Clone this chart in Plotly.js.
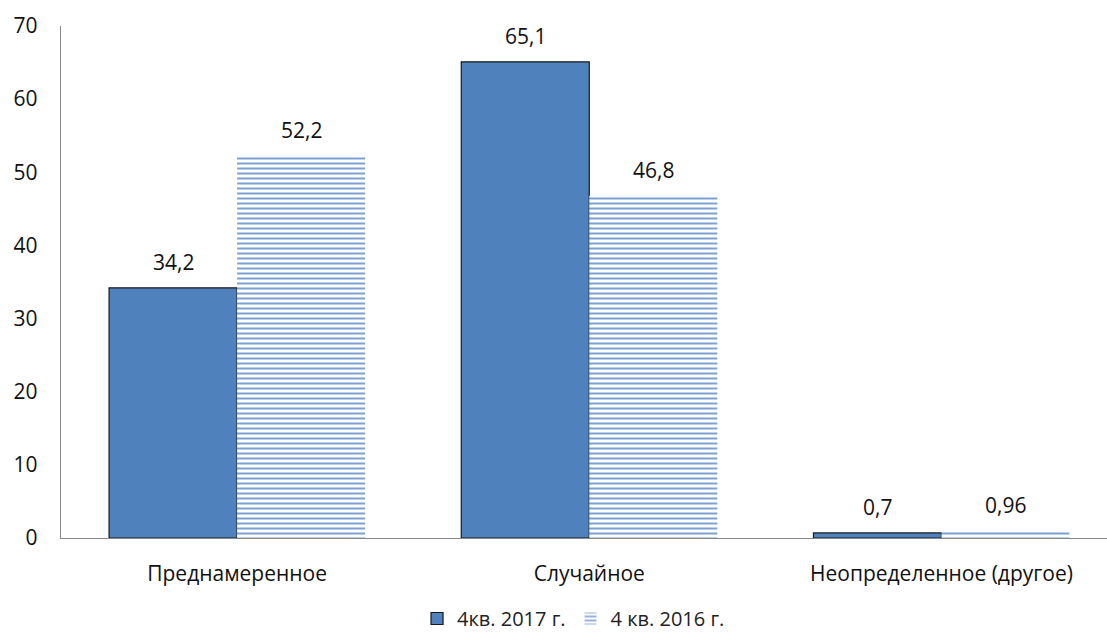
<!DOCTYPE html>
<html>
<head>
<meta charset="utf-8">
<script src="https://cdn.plot.ly/plotly-3.0.1.min.js"></script>
<style>html,body{margin:0;padding:0;background:#fff;}#chart{width:1107px;height:638px;}</style>
</head>
<body>
<div id="chart"></div>
<script>
const categories = ["Преднамеренное", "Случайное", "Неопределенное (другое)"];
const series2017 = [34.2, 65.1, 0.7];
const series2016 = [52.2, 46.8, 0.96];
const seriesNames = ["4кв. 2017 г.", "4 кв. 2016 г."];
const yTicks = [0, 10, 20, 30, 40, 50, 60, 70];

const fmt = v => String(v).replace('.', ',');
const font = "Open Sans, Noto Sans, DejaVu Sans, sans-serif";

const traces = [
  {
    type: 'bar', name: seriesNames[0], x: categories, y: series2017,
    marker: {color: '#4F81BD', line: {color: '#1a1a1a', width: 1.2}}
  },
  {
    type: 'bar', name: seriesNames[1], x: categories, y: series2016,
    marker: {color: '#ffffff', line: {width: 0},
      pattern: {shape: '-', fgcolor: '#7BA0D4', bgcolor: '#ffffff', size: 5, solidity: 0.4}}
  }
];

const annotations = [];
[series2017, series2016].forEach((s, si) => {
  s.forEach((v, i) => {
    annotations.push({
      x: categories[i], y: v, xref: 'x', yref: 'y', text: fmt(v), showarrow: false,
      xshift: si === 0 ? -64 : 64, yshift: 26, yanchor: 'middle', xanchor: 'center',
      font: {size: 21, color: '#111', family: font}
    });
  });
});

const layout = {
  width: 1107, height: 638,
  margin: {l: 61, r: 0, t: 26, b: 100, autoexpand: false},
  paper_bgcolor: '#fff', plot_bgcolor: '#fff',
  barmode: 'group', bargap: 0.273, bargroupgap: 0,
  font: {family: font, size: 21, color: '#222'},
  showlegend: true,
  annotations: annotations,
  legend: {orientation: 'h', x: 0.49, xanchor: 'center', yref: 'container', y: 0, yanchor: 'bottom',
    font: {size: 20, color: '#222'}, itemwidth: 30, tracegroupgap: 0},
  xaxis: {range: [-0.5, 2.47], showline: true, linecolor: '#888', linewidth: 1.3, automargin: false,
    ticks: '', showgrid: false, zeroline: false, tickfont: {size: 21, color: '#111'}, ticklabelstandoff: 16},
  yaxis: {range: [0, 70], tickvals: yTicks, showline: true, linecolor: '#888', linewidth: 1.3, automargin: false,
    ticks: '', showgrid: false, zeroline: false, tickfont: {size: 21, color: '#111'}, ticklabelstandoff: 18}
};

Plotly.newPlot('chart', traces, layout, {displayModeBar: false, staticPlot: true});
</script>
</body>
</html>
